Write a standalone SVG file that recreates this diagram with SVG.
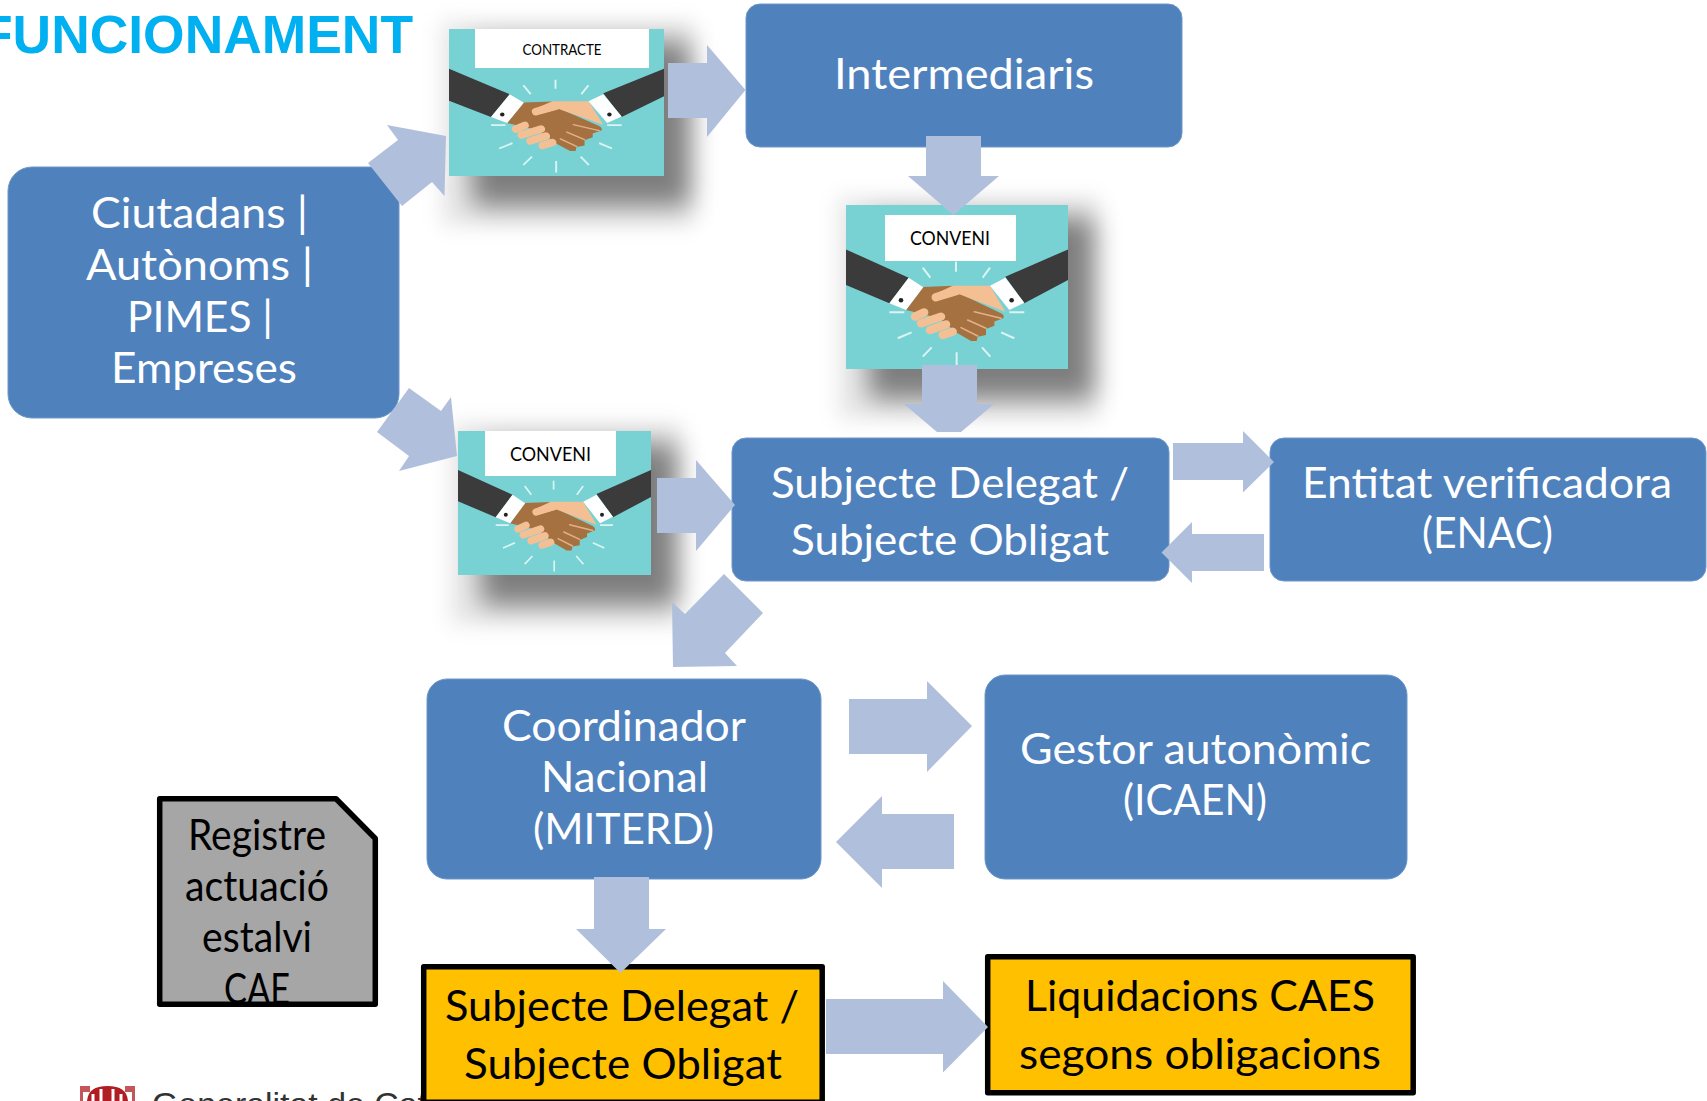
<svg xmlns="http://www.w3.org/2000/svg" xmlns:xlink="http://www.w3.org/1999/xlink" width="1707" height="1101" viewBox="0 0 1707 1101">
<style>
text{font-family:"Lato","Open Sans","Liberation Sans",sans-serif;text-anchor:start}
.b{fill:#4F81BD;stroke:#6E97C8;stroke-width:1}
.y{fill:#FFC000;stroke:#000;stroke-width:5.5;stroke-linejoin:round}
.g{fill:#A6A6A6;stroke:#000;stroke-width:5.5;stroke-linejoin:round}
.w{fill:#fff;font-size:42.5px}
.k{fill:#000;font-size:42.5px}
.a{fill:#B0C0DC}
.l{fill:#fff}
.t{fill:#000;font-size:20px}
.s{fill:#000;fill-opacity:.46;filter:url(#sh)}
.h{fill:#000;fill-opacity:.09;filter:url(#hl)}
</style>
<defs>
<filter id="sh" x="-40%" y="-40%" width="180%" height="180%"><feGaussianBlur stdDeviation="13"/></filter>
<filter id="hl" x="-40%" y="-40%" width="180%" height="180%"><feGaussianBlur stdDeviation="10"/></filter>
<filter id="soft" x="-5%" y="-5%" width="110%" height="110%"><feGaussianBlur stdDeviation="0.35"/></filter>
<symbol id="shake" viewBox="0 0 193 144" preserveAspectRatio="none">
<rect width="193" height="144" fill="#78D2D3"/>
<g filter="url(#soft)">
<g stroke="#DDF4F4" stroke-width="1.7" fill="none">
<path d="M95.600 49.800V58.500M66.700 55L73.300 63.800M125.200 55L118.800 63.800M37.700 94.200H50.700M142 94.200H155M45 117L57 111.800M146.300 117L134.800 111.800M66.700 133.200L74.500 125M125.500 133.200L118.200 125M96.200 129.400V140.500"/>
</g>
<path d="M0 39L54.500 63.800L37.700 86.300L0 70.200Z" fill="#3A3A3A"/>
<path d="M193 39L138.500 63L155 86.300L193 65.900Z" fill="#3A3A3A"/>
<path d="M67 72L93 71L100 78.400L134.800 95.100Q138 97 136.800 99.500L129 102.400V106L121.700 108.900V114.200L114.500 115.600L113.600 119.400H108.700L97 112.700L81 99.500L52.200 92.200Z" fill="#A5713F"/>
<path d="M92.700 70.800H125.200L138.500 93.700L98.500 78.400L78.200 84.300L74.800 81.400L78.200 77.600Z" fill="#F5BF94"/>
<path d="M54.500 63.800L67.200 72.300L52.200 92.200L37.700 86.300Z" fill="#fff"/>
<path d="M125.200 70.800L138.500 63.800L155 85.800L142 92.200Z" fill="#fff"/>
<circle cx="47.800" cy="83.700" r="2" fill="#222"/><circle cx="144" cy="83.700" r="2" fill="#222"/>
<g stroke="#F5BF94" stroke-width="7.300" stroke-linecap="round" fill="none">
<path d="M60 98L68 94.300M65.200 103.900L82.600 98M73 109.800L87 104.800M84 114.100L92.700 111.200M78 81L96 75.500"/>
</g>
<g stroke="#E3B088" stroke-width="1.400" stroke-linecap="round" fill="none">
<path d="M111.600 93.700L134.800 99.500M105.800 101L121.700 108.300M100 107.700L114.500 115"/>
</g>
</g>
</symbol>
</defs>
<rect width="1707" height="1101" fill="#fff"/>

<g id="title"><text x="-20" y="53" textLength="433" lengthAdjust="spacingAndGlyphs" style="font-family:'Liberation Sans',Arial,sans-serif;font-weight:700;font-size:53.500px;fill:#00B0F0">FUNCIONAMENT</text></g>

<g id="footer">
<g id="footer-logo" fill="#B01E23">
<rect x="80" y="1086" width="10" height="6" fill-opacity=".75"/><rect x="125" y="1086" width="10" height="6" fill-opacity=".75"/>
<path d="M87 1101Q88 1086 107.500 1086T128 1101Z"/>
<path d="M93 1101V1094M101 1101V1089M113 1101V1089M121 1101V1094" stroke="#fff" stroke-width="3" fill="none"/>
<rect x="80" y="1092" width="3" height="9" fill-opacity=".75"/><rect x="132" y="1092" width="3" height="9" fill-opacity=".75"/>
</g>
<text x="152" y="1114.500" textLength="275" lengthAdjust="spacingAndGlyphs" style="font-family:'Liberation Sans',Arial,sans-serif;font-size:32px;fill:#333">Generalitat de Cat</text>
</g>

<g id="node-ciutadans"><rect class="b" x="8" y="167" width="391" height="251" rx="24"/>
<text class="w" x="91" y="228" textLength="217" lengthAdjust="spacingAndGlyphs">Ciutadans |</text>
<text class="w" x="86" y="280" textLength="227" lengthAdjust="spacingAndGlyphs">Autònoms |</text>
<text class="w" x="127" y="332" textLength="146" lengthAdjust="spacingAndGlyphs">PIMES |</text>
<text class="w" x="111" y="383" textLength="186" lengthAdjust="spacingAndGlyphs">Empreses</text></g>

<g id="node-contracte"><rect class="h" x="441" y="21" width="253" height="205"/><rect class="s" x="472" y="42" width="218" height="164"/><use xlink:href="#shake" href="#shake" x="449" y="29" width="215" height="147"/><rect class="l" x="475" y="29" width="174" height="39"/>
<text class="t" x="522.500" y="54.500" textLength="79" lengthAdjust="spacingAndGlyphs" style="font-size:15.500px">CONTRACTE</text></g>

<g id="node-intermediaris"><rect class="b" x="746" y="4" width="436" height="143" rx="14"/>
<text class="w" x="834" y="89" textLength="260" lengthAdjust="spacingAndGlyphs">Intermediaris</text></g>

<g id="node-conveni-1"><rect class="h" x="838" y="197" width="260" height="222"/><rect class="s" x="869" y="218" width="225" height="181"/><use xlink:href="#shake" href="#shake" x="846" y="205" width="222" height="164"/><rect class="l" x="885" y="215" width="131" height="46"/>
<text class="t" x="910" y="245" textLength="80" lengthAdjust="spacingAndGlyphs">CONVENI</text></g>

<g id="node-conveni-2"><rect class="h" x="450" y="423" width="231" height="202"/><rect class="s" x="481" y="444" width="196" height="161"/><use xlink:href="#shake" href="#shake" x="458" y="431" width="193" height="144"/><rect class="l" x="485" y="431" width="131" height="45"/>
<text class="t" x="510" y="461" textLength="81" lengthAdjust="spacingAndGlyphs">CONVENI</text></g>

<g id="node-subjecte-1"><rect class="b" x="732" y="438" width="437" height="143" rx="14"/>
<text class="w" x="771" y="497.500" textLength="358" lengthAdjust="spacingAndGlyphs">Subjecte Delegat /</text>
<text class="w" x="791" y="555" textLength="318" lengthAdjust="spacingAndGlyphs">Subjecte Obligat</text></g>

<g id="node-entitat"><rect class="b" x="1270" y="438" width="436" height="143" rx="14"/>
<text class="w" x="1302" y="497.500" textLength="370" lengthAdjust="spacingAndGlyphs">Entitat verificadora</text>
<text class="w" x="1422" y="548" textLength="131" lengthAdjust="spacingAndGlyphs">(ENAC)</text></g>

<g id="node-coordinador"><rect class="b" x="427" y="679" width="394" height="200" rx="20"/>
<text class="w" x="502" y="741" textLength="244" lengthAdjust="spacingAndGlyphs">Coordinador</text>
<text class="w" x="541" y="792" textLength="167" lengthAdjust="spacingAndGlyphs">Nacional</text>
<text class="w" x="533" y="844" textLength="181" lengthAdjust="spacingAndGlyphs">(MITERD)</text></g>

<g id="node-gestor"><rect class="b" x="985" y="675" width="422" height="204" rx="20"/>
<text class="w" x="1020" y="764" textLength="351" lengthAdjust="spacingAndGlyphs">Gestor autonòmic</text>
<text class="w" x="1123" y="815" textLength="144" lengthAdjust="spacingAndGlyphs">(ICAEN)</text></g>

<g id="node-registre"><path class="g" d="M159.700 798.700H336L375.300 838.500V1004.300H159.700Z"/>
<text class="k" x="188" y="850" textLength="138" lengthAdjust="spacingAndGlyphs">Registre</text>
<text class="k" x="185" y="901" textLength="144" lengthAdjust="spacingAndGlyphs">actuació</text>
<text class="k" x="202" y="952" textLength="110" lengthAdjust="spacingAndGlyphs">estalvi</text>
<text class="k" x="224" y="1004" textLength="66" lengthAdjust="spacingAndGlyphs">CAE</text></g>

<g id="node-subjecte-2"><rect class="y" x="423.700" y="966.700" width="398.500" height="135.500"/>
<text class="k" x="445" y="1021" textLength="354" lengthAdjust="spacingAndGlyphs">Subjecte Delegat /</text>
<text class="k" x="464" y="1079" textLength="318" lengthAdjust="spacingAndGlyphs">Subjecte Obligat</text></g>

<g id="node-liquidacions"><rect class="y" x="987.700" y="956.700" width="425.500" height="136"/>
<text class="k" x="1025" y="1011" textLength="350" lengthAdjust="spacingAndGlyphs">Liquidacions CAES</text>
<text class="k" x="1019" y="1069" textLength="362" lengthAdjust="spacingAndGlyphs">segons obligacions</text></g>

<g id="connectors">
<polygon class="a" points="387,125 446,136 444.500,196 432,182 402,206 368,163 398,140"/>
<polygon class="a" points="668,63 707,63 707,45 745.500,90 707,137 707,118 668,118"/>
<polygon class="a" points="926,136 981,136 981,176 999,176 953.500,215 908,176 926,176"/>
<polygon class="a" points="922,365 977,365 977,404 994,404 961,432 937,432 904,404 922,404"/>
<polygon class="a" points="409,388 441,411 451,397 457,456 399,471 409,456 377,432"/>
<polygon class="a" points="657,478 696,478 696,460 735,505 696,551 696,533 657,533"/>
<polygon class="a" points="1173,443 1243,443 1243,431 1274,462 1243,492.500 1243,480 1173,480"/>
<polygon class="a" points="1264,534 1192,534 1192,522 1161.500,552.500 1192,583 1192,571 1264,571"/>
<polygon class="a" points="724,574 763,613 725,653 737,666 673,667 672,602 685,614"/>
<polygon class="a" points="849,699 927,699 927,681 972,726 927,772 927,754 849,754"/>
<polygon class="a" points="954,814 882,814 882,796 836,842 882,888 882,869 954,869"/>
<polygon class="a" points="594,877 649,877 649,929 666,929 620.500,973 576,929 594,929"/>
<polygon class="a" points="826,999 943,999 943,981 988,1027 943,1072.500 943,1054 826,1054"/>
</g>
</svg>
